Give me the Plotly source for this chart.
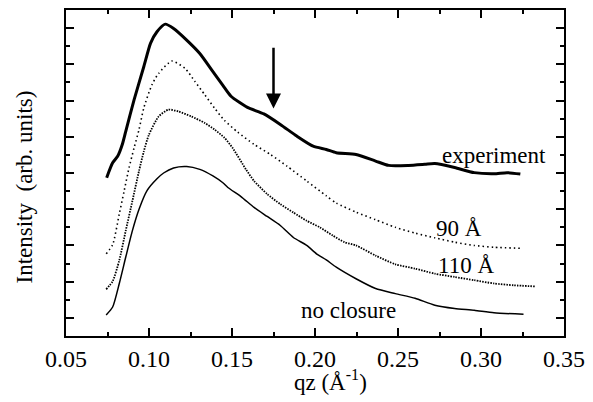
import plotly.graph_objects as go

# ---- data (qz in 1/Å, intensity in arbitrary offset units) ----
exp_q = [0.0745, 0.0781, 0.0811, 0.0840, 0.0860, 0.0910, 0.0969, 0.1009, 0.1048, 0.1098,
         0.1148, 0.1227, 0.1306, 0.1385, 0.1445, 0.1494, 0.1593, 0.1692, 0.1791, 0.1890,
         0.1989, 0.2068, 0.2128, 0.2247, 0.2365, 0.2444, 0.2563, 0.2662, 0.2722, 0.2841,
         0.2959, 0.3078, 0.3157, 0.3237]
exp_i = [4.37, 4.78, 4.96, 5.30, 5.65, 6.52, 7.44, 8.08, 8.40, 8.61,
         8.49, 8.17, 7.80, 7.30, 6.92, 6.62, 6.31, 6.13, 5.84, 5.52,
         5.24, 5.15, 5.06, 5.01, 4.83, 4.71, 4.71, 4.74, 4.76, 4.65,
         4.51, 4.48, 4.51, 4.47]

a90_q = [0.0742, 0.0781, 0.0821, 0.0850, 0.0880, 0.0910, 0.0940, 0.0969, 0.1019, 0.1058,
         0.1137, 0.1217, 0.1276, 0.1336, 0.1395, 0.1455, 0.1534, 0.1633, 0.1732, 0.1831,
         0.1950, 0.2068, 0.2128, 0.2247, 0.2365, 0.2484, 0.2603, 0.2722, 0.2841, 0.2959,
         0.3078, 0.3246]
a90_i = [2.27, 2.52, 3.37, 4.00, 4.65, 5.19, 5.70, 6.30, 6.95, 7.25,
         7.59, 7.39, 7.03, 6.66, 6.29, 5.95, 5.63, 5.29, 5.01, 4.69,
         4.28, 3.87, 3.67, 3.42, 3.21, 3.00, 2.84, 2.71, 2.59, 2.50,
         2.45, 2.42]

a110_q = [0.0742, 0.0781, 0.0821, 0.0860, 0.0900, 0.0940, 0.0969, 0.0999, 0.1058, 0.1117,
          0.1177, 0.1256, 0.1336, 0.1395, 0.1455, 0.1504, 0.1584, 0.1633, 0.1712, 0.1791,
          0.1870, 0.1950, 0.2029, 0.2108, 0.2177, 0.2247, 0.2365, 0.2484, 0.2603, 0.2722,
          0.2841, 0.2959, 0.3078, 0.3197, 0.3326]
a110_i = [1.29, 1.51, 2.09, 2.91, 3.73, 4.56, 5.10, 5.55, 6.06, 6.25,
          6.20, 6.06, 5.88, 5.70, 5.47, 5.19, 4.60, 4.28, 3.92, 3.64,
          3.41, 3.18, 3.00, 2.77, 2.59, 2.50, 2.22, 1.98, 1.86, 1.72,
          1.63, 1.54, 1.45, 1.40, 1.37]

nc_q = [0.0742, 0.0781, 0.0821, 0.0860, 0.0900, 0.0940, 0.0989, 0.1048, 0.1088, 0.1148,
        0.1227, 0.1306, 0.1385, 0.1445, 0.1475, 0.1554, 0.1633, 0.1712, 0.1791, 0.1870,
        0.1950, 0.2009, 0.2068, 0.2128, 0.2247, 0.2365, 0.2484, 0.2603, 0.2722, 0.2841,
        0.2959, 0.3078, 0.3256]
nc_i = [0.58, 0.80, 1.45, 2.18, 2.91, 3.50, 4.02, 4.34, 4.50, 4.64,
        4.68, 4.60, 4.42, 4.23, 4.10, 3.85, 3.55, 3.30, 3.05, 2.72,
        2.50, 2.27, 2.10, 1.90, 1.58, 1.31, 1.17, 1.04, 0.85, 0.76,
        0.71, 0.64, 0.60]

arrow_q = 0.175
arrow_top, arrow_tip = 8.0, 6.28

labels = ["experiment", "90 Å", "110 Å", "no closure"]
label_q = [0.3078, 0.2870, 0.2909, 0.2199]
label_i = [4.97, 2.96, 1.95, 0.71]

FONT = "Liberation Serif, Times New Roman, serif"

fig = go.Figure()
fig.add_trace(go.Scatter(x=exp_q, y=exp_i, mode="lines",
                         line=dict(color="black", width=3, shape="spline", smoothing=0.6)))
fig.add_trace(go.Scatter(x=a90_q, y=a90_i, mode="lines",
                         line=dict(color="black", width=1.6, dash="1.5px,3px",
                                   shape="spline", smoothing=0.6)))
fig.add_trace(go.Scatter(x=a110_q, y=a110_i, mode="lines",
                         line=dict(color="black", width=1.8, dash="1.5px,1.2px",
                                   shape="spline", smoothing=0.6)))
fig.add_trace(go.Scatter(x=nc_q, y=nc_i, mode="lines",
                         line=dict(color="black", width=1.5, shape="spline", smoothing=0.6)))

fig.add_annotation(x=arrow_q, y=arrow_tip, ax=arrow_q, ay=arrow_top,
                   xref="x", yref="y", axref="x", ayref="y",
                   showarrow=True, arrowhead=2, arrowsize=1.2, arrowwidth=2.5,
                   arrowcolor="black", text="")

for t, q, i in zip(labels, label_q, label_i):
    fig.add_annotation(x=q, y=i, xref="x", yref="y", text=t, showarrow=False,
                       xanchor="center", yanchor="middle",
                       font=dict(family=FONT, size=23, color="black"))

fig.add_annotation(x=(334 - 66) / 505, y=(336 - 381) / 328, xref="paper", yref="paper",
                   text="qz (Å<sup>-1</sup>)", showarrow=False,
                   xanchor="center", yanchor="middle",
                   font=dict(family=FONT, size=23, color="black"))
fig.add_annotation(x=(24 - 66) / 505, y=(336 - 186) / 328, xref="paper", yref="paper",
                   text="Intensity  (arb. units)", showarrow=False, textangle=-90,
                   xanchor="center", yanchor="middle",
                   font=dict(family=FONT, size=23, color="black"))

fig.update_layout(
    width=593, height=402,
    margin=dict(l=66, r=22, t=8, b=66),
    paper_bgcolor="white", plot_bgcolor="white",
    showlegend=False,
    font=dict(family=FONT, size=23, color="black"),
    xaxis=dict(range=[0.05, 0.35], tick0=0.05, dtick=0.05, tickformat=".2f",
               ticks="inside", ticklen=8, tickwidth=2, tickcolor="black",
               showline=True, linewidth=2, linecolor="black", mirror="allticks",
               showgrid=False, zeroline=False,
               minor=dict(ticks="inside", ticklen=4, tickwidth=2, tickcolor="black",
                          dtick=0.025, tick0=0.05, showgrid=False),
               tickfont=dict(family=FONT, size=24, color="black")),
    yaxis=dict(range=[0, 9], tick0=0.5, dtick=1, showticklabels=False,
               ticks="inside", ticklen=8, tickwidth=2, tickcolor="black",
               showline=True, linewidth=2, linecolor="black", mirror="allticks",
               showgrid=False, zeroline=False,
               minor=dict(ticks="inside", ticklen=4, tickwidth=2, tickcolor="black",
                          dtick=0.5, tick0=0, showgrid=False)),
)

fig.write_html("out.html")
